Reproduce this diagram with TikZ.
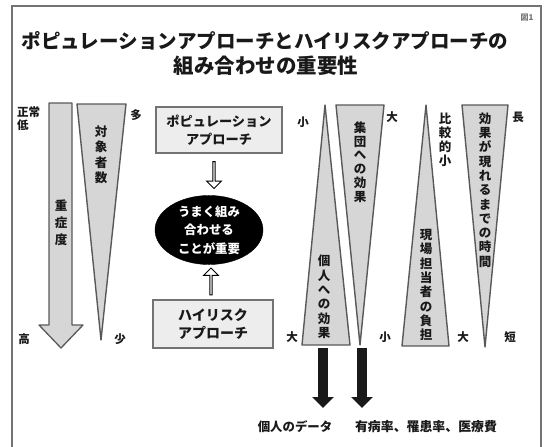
\documentclass[tikz,border=0pt]{standalone}
\usepackage{fontspec}
\newfontfamily\jp{Noto Sans CJK JP}
\usetikzlibrary{shapes.geometric,shapes.arrows,arrows.meta,calc}
\begin{document}
\begin{tikzpicture}[x=1pt,y=-1pt,
  every node/.style={inner sep=0pt, text=black!90},
  tri/.style={draw=black!65, line width=1.4pt, fill=black!16, line join=round},
  boxnode/.style={draw=black!55, line width=1.6pt, fill=black!7, inner sep=0pt, align=center},
  vt/.style={align=center, inner sep=0pt, font=\jp\bfseries\fontsize{12.5}{14.3}\selectfont},
  lab/.style={inner sep=0pt, font=\jp\bfseries\fontsize{11.5}{13}\selectfont},
  harrow/.style={single arrow, draw=black, line width=0.9pt, fill=white, minimum height=27pt, minimum width=15pt, single arrow head extend=2.5pt, inner sep=0pt},
  barrow/.style={line width=10pt, draw=black!90, -{Triangle[length=11pt,width=21pt]}},
]
\useasboundingbox (0,0) rectangle (544,447);
% frame
\draw[black!55, line width=1.4pt] (12,447) -- (12,6) -- (541,6) -- (541,447);
% title
\node[font=\jp\bfseries\fontsize{19.5}{24}\selectfont] (t1) at (265,41) {ポピュレーションアプローチとハイリスクアプローチの};
\node[font=\jp\bfseries\fontsize{20.5}{24}\selectfont] (t2) at (266,66) {組み合わせの重要性};
\node[font=\jp\bfseries\fontsize{8}{9}\selectfont, text=black!55] (fig) at (527,18) {図1};
% left big arrow
\draw[tri, line width=1.3pt] (49,103) -- (72,103) -- (72,325) -- (83,325) -- (61,348) -- (39,325) -- (49,325) -- cycle;
\node[vt, font=\jp\bfseries\fontsize{12.5}{17}\selectfont] (sev) at (61,223) {重\\症\\度};
\node[lab, anchor=north west, align=left] (low) at (17,106) {正常\\低};
\node[lab] (high) at (24,339) {高};
% triangle: target number
\draw[tri] (77,104) -- (126,104) -- (101,340) -- cycle;
\node[vt, font=\jp\bfseries\fontsize{12.5}{15.5}\selectfont] (num) at (101,155) {対\\象\\者\\数};
\node[lab] (many) at (136,115) {多};
\node[lab] (few) at (120,339) {少};
% middle
\node[boxnode, minimum width=126pt, minimum height=46pt, font=\jp\bfseries\fontsize{13.2}{18}\selectfont] (pop) at (219,130) {ポピュレーション\\アプローチ};
\node[boxnode, minimum width=120pt, minimum height=48pt, font=\jp\bfseries\fontsize{14}{18}\selectfont] (hr) at (213,324) {ハイリスク\\アプローチ};
\node[ellipse, fill=black, draw=black, minimum width=108pt, minimum height=60pt, align=center, text=white, font=\jp\bfseries\fontsize{12.4}{18.5}\selectfont] (ell) at (209,230) {うまく組み\\合わせる\\ことが重要};
\node[harrow, shape border rotate=270] (a1) at ($(pop.south)!0.5!(ell.north)$) {};
\node[harrow, shape border rotate=90] (a2) at ($(hr.north)!0.5!(ell.south)$) {};
% right triangles
\draw[tri] (325,105) -- (350,345) -- (302,345) -- cycle;
\node[vt] (ind) at (324,297) {個\\人\\へ\\の\\効\\果};
\draw[tri] (336,105) -- (384,105) -- (360,345) -- cycle;
\node[vt, font=\jp\bfseries\fontsize{12.5}{13.8}\selectfont] (grp) at (360,162) {集\\団\\へ\\の\\効\\果};
\draw[tri] (426,105) -- (449,346) -- (402,346) -- cycle;
\node[vt] (burden) at (426,285) {現\\場\\担\\当\\者\\の\\負\\担};
\draw[tri] (462,105) -- (508,105) -- (485,347) -- cycle;
\node[vt] (time) at (485,190) {効\\果\\が\\現\\れ\\る\\ま\\で\\の\\時\\間};
% labels
\node[lab] (s1) at (303,122) {小};
\node[lab] (l1) at (292,337) {大};
\node[lab] (l2) at (392,117) {大};
\node[lab] (s2) at (385,337) {小};
\node[vt, font=\jp\bfseries\fontsize{12.5}{14.2}\selectfont] (rel) at (445,140) {比\\較\\的\\小};
\node[lab] (l3) at (463,337) {大};
\node[lab] (lng) at (518,117) {長};
\node[lab] (sht) at (510,337) {短};
% bottom arrows and texts
\node[font=\jp\bfseries\fontsize{12.4}{14}\selectfont] (data) at (295,427) {個人のデータ};
\node[font=\jp\bfseries\fontsize{12.9}{14}\selectfont] (rates) at (426,427) {有病率、罹患率、医療費};
\coordinate (ca) at (323,348);
\coordinate (cb) at (362,348);
\coordinate (da) at (323,408);
\coordinate (db) at (362,408);
\draw[barrow] (ca) -- (da);
\draw[barrow] (cb) -- (db);
\end{tikzpicture}
\end{document}
